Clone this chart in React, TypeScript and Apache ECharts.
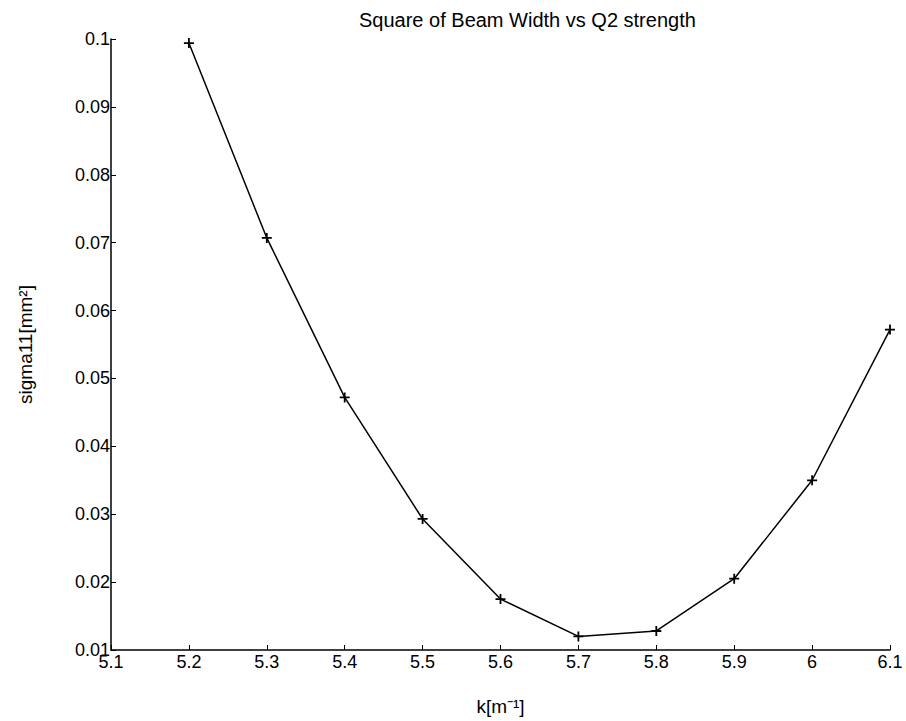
import React, { useEffect, useRef } from "react";
import * as echarts from "echarts";

const kValues = [5.2, 5.3, 5.4, 5.5, 5.6, 5.7, 5.8, 5.9, 6.0, 6.1];
const sigma11 = [0.0994, 0.0707, 0.0472, 0.0293, 0.0175, 0.012, 0.0128, 0.0205, 0.035, 0.0572];
const titleText = "Square of Beam Width vs Q2 strength";
const xName = "k[m\u207B\u00B9]";
const yName = "sigma11[mm\u00B2]";

const FONT = "Liberation Sans, Arial, Helvetica, sans-serif";

export default function App() {
  const ref = useRef<HTMLDivElement>(null);
  useEffect(() => {
    if (!ref.current) return;
    const chart = echarts.init(ref.current, null, { renderer: "svg" });
    const data = kValues.map((k, i) => [k, sigma11[i]]);
    chart.setOption({
      animation: false,
      backgroundColor: "#fff",
      title: {
        text: titleText,
        left: 354,
        top: 5,
        textStyle: { fontFamily: FONT, fontSize: 20, fontWeight: "normal", color: "#000" },
      },
      grid: { left: 111, right: 16, top: 39, bottom: 69, containLabel: false },
      xAxis: {
        type: "value",
        min: 5.1,
        max: 6.1,
        interval: 0.1,
        name: xName,
        nameLocation: "middle",
        nameGap: 47,
        nameTextStyle: { fontFamily: FONT, fontSize: 19, color: "#000" },
        axisLine: { show: true, onZero: false, lineStyle: { color: "#000", width: 1.5 } },
        axisTick: { show: true, inside: true, length: 5, lineStyle: { color: "#000" } },
        axisLabel: {
          fontFamily: FONT,
          fontSize: 18,
          color: "#000",
          margin: 3,
          formatter: (v: number) => String(Math.round(v * 10) / 10),
        },
        splitLine: { show: false },
      },
      yAxis: {
        type: "value",
        min: 0.01,
        max: 0.1,
        interval: 0.01,
        name: yName,
        nameLocation: "middle",
        nameGap: 76,
        nameRotate: 90,
        nameTextStyle: { fontFamily: FONT, fontSize: 19, color: "#000" },
        axisLine: { show: true, onZero: false, lineStyle: { color: "#000", width: 1.5 } },
        axisTick: { show: true, inside: true, length: 5, lineStyle: { color: "#000" } },
        axisLabel: {
          fontFamily: FONT,
          fontSize: 18,
          color: "#000",
          margin: 1,
          formatter: (v: number) => String(Math.round(v * 100) / 100),
        },
        splitLine: { show: false },
      },
      series: [
        {
          type: "line",
          data,
          symbol: "path://M0,5L10,5M5,0L5,10",
          symbolSize: 10,
          showAllSymbol: true,
          itemStyle: { color: "transparent", borderColor: "#000", borderWidth: 1.8 },
          lineStyle: { color: "#000", width: 1.5 },
        },
      ],
    });
    return () => chart.dispose();
  }, []);
  return (
    <div
      ref={ref}
      style={{ position: "absolute", left: 0, top: 0, width: 906, height: 721 }}
    />
  );
}
